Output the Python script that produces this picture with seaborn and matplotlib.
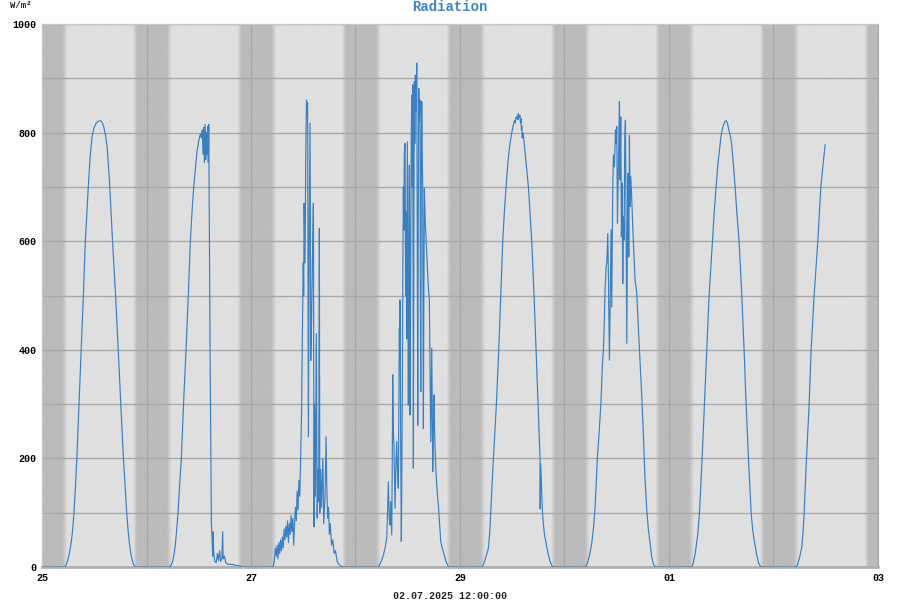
import numpy as np
import pandas as pd
import matplotlib
matplotlib.use('Agg')
import matplotlib.pyplot as plt
import seaborn as sns
from matplotlib.colors import LinearSegmentedColormap
from matplotlib.ticker import MultipleLocator, FixedLocator


# days shown (25.06 - 02.07.2025), x axis in hours from 25.06 00:00
day_names = ['25', '26', '27', '28', '29', '30', '01', '02']
xtick_hours = [0, 48, 96, 144, 192]
xtick_labels = ['25', '27', '29', '01', '03']

# (hour of day, W/m²), one list per day
day25 = [(0, 0), (5.2, 0), (5.6, 5), (6.0, 15), (6.4, 30), (6.7, 45), (7.0, 65), (7.35, 100),
         (7.7, 150), (8.0, 200), (8.5, 300), (9.0, 400), (9.5, 500), (9.95, 600), (10.35, 660),
         (10.7, 710), (11.1, 760), (11.5, 792), (11.9, 808), (12.4, 817), (12.9, 821), (13.4, 822),
         (13.8, 819), (14.2, 810), (14.6, 795), (15.0, 770), (15.5, 710), (16.2, 600), (16.9, 500),
         (17.5, 400), (18.1, 300), (18.7, 200), (19.1, 145), (19.45, 100), (19.8, 65), (20.1, 42),
         (20.5, 20), (20.9, 7), (21.4, 0)]
day26 = [(5.3, 0), (5.7, 4), (6.0, 10), (6.3, 22), (6.6, 40), (6.9, 65), (7.24, 100), (7.6, 150),
         (8.0, 200), (8.5, 300), (9.08, 400), (9.6, 500), (10.07, 600), (10.5, 660), (10.9, 705),
         (11.3, 740), (11.6, 765), (12.0, 785), (12.36, 798), (12.6, 790), (12.8, 805),
         (13.0, 760), (13.15, 810), (13.3, 745), (13.45, 815), (13.6, 750), (13.75, 800),
         (13.9, 760), (14.05, 812), (14.2, 745), (14.3, 815), (14.6, 400), (14.9, 80), (15.05, 55),
         (15.2, 20), (15.3, 65), (15.45, 25), (15.7, 10), (16.0, 8), (16.3, 25), (16.5, 12),
         (16.8, 30), (17.0, 10), (17.3, 15), (17.5, 65), (17.6, 15), (17.9, 20), (18.2, 8),
         (18.7, 5), (19.5, 5), (20.5, 3), (21.5, 2), (22.0, 0)]
day27 = [(5.1, 0), (5.4, 15), (5.6, 35), (5.8, 20), (6.0, 40), (6.2, 15), (6.4, 45), (6.6, 25),
         (6.8, 50), (7.0, 30), (7.2, 55), (7.4, 35), (7.6, 70), (7.8, 50), (8.0, 75), (8.2, 55),
         (8.4, 85), (8.6, 45), (8.8, 80), (9.0, 60), (9.2, 95), (9.4, 65), (9.6, 90), (9.8, 40),
         (10.0, 80), (10.2, 110), (10.4, 85), (10.6, 140), (10.8, 105), (11.0, 160), (11.2, 130),
         (11.4, 200), (11.6, 280), (11.8, 430), (12.0, 560), (12.1, 500), (12.2, 670), (12.4, 560),
         (12.6, 780), (12.75, 860), (12.85, 835), (13.0, 855), (13.18, 240), (13.35, 600),
         (13.56, 817), (13.72, 380), (13.9, 450), (14.1, 560), (14.33, 670), (14.48, 74),
         (14.6, 300), (14.8, 130), (15.0, 430), (15.2, 90), (15.4, 180), (15.55, 120), (15.7, 624),
         (15.8, 100), (16.0, 180), (16.2, 110), (16.5, 200), (16.7, 80), (17.0, 130), (17.24, 240),
         (17.4, 150), (17.6, 90), (17.8, 110), (18.0, 60), (18.2, 80), (18.5, 40), (18.8, 50),
         (19.1, 25), (19.4, 30), (19.8, 10), (20.2, 5), (20.6, 2), (21.2, 0)]
day28 = [(5.2, 0), (5.6, 5), (6.0, 12), (6.4, 22), (6.8, 35), (7.17, 53), (7.4, 110), (7.55, 157),
         (7.75, 90), (7.94, 77), (8.1, 120), (8.32, 59), (8.45, 200), (8.55, 354), (8.7, 250),
         (8.85, 219), (9.0, 140), (9.08, 108), (9.25, 180), (9.47, 231), (9.65, 170), (9.84, 145),
         (9.95, 300), (10.07, 440), (10.15, 380), (10.23, 492), (10.4, 200), (10.53, 47),
         (10.65, 180), (10.76, 323), (10.88, 560), (10.99, 700), (11.1, 620), (11.2, 760),
         (11.38, 780), (11.5, 500), (11.61, 654), (11.75, 420), (11.91, 783), (12.0, 600),
         (12.14, 298), (12.25, 550), (12.37, 740), (12.45, 450), (12.53, 280), (12.7, 620),
         (12.82, 800), (12.92, 869), (13.05, 700), (13.15, 888), (13.22, 500), (13.29, 182),
         (13.4, 600), (13.52, 894), (13.62, 780), (13.75, 906), (13.9, 840), (14.0, 880),
         (14.07, 928), (14.18, 600), (14.3, 261), (14.42, 650), (14.53, 881), (14.65, 820),
         (14.83, 860), (14.9, 500), (14.98, 323), (15.1, 700), (15.21, 857), (15.32, 760),
         (15.44, 703), (15.52, 400), (15.59, 255), (15.7, 500), (15.82, 697), (16.0, 640),
         (16.2, 605), (16.35, 580), (16.51, 550), (16.7, 520), (16.97, 489), (17.1, 380),
         (17.28, 231), (17.4, 330), (17.51, 403), (17.62, 300), (17.74, 176), (17.9, 260),
         (18.04, 317), (18.15, 260), (18.27, 219), (18.45, 180), (18.66, 151), (18.85, 130),
         (19.03, 114), (19.3, 80), (19.58, 47), (19.9, 35), (20.19, 28), (20.5, 18), (20.8, 10),
         (21.35, 0)]
day29 = [(5.0, 0), (5.4, 5), (5.8, 14), (6.2, 25), (6.5, 34), (6.8, 60), (7.06, 100), (7.35, 150),
         (7.67, 200), (8.36, 300), (8.9, 400), (9.36, 500), (9.82, 600), (10.2, 655), (10.58, 700),
         (11.0, 745), (11.4, 775), (11.88, 800), (12.2, 812), (12.5, 822), (12.7, 818), (12.85, 828),
         (13.03, 826), (13.2, 832), (13.3, 824), (13.41, 835), (13.6, 828), (13.75, 832),
         (13.9, 818), (14.0, 826), (14.1, 805), (14.2, 812), (14.3, 790), (14.4, 800), (14.56, 795),
         (14.8, 775), (15.2, 740), (15.71, 700), (16.1, 650), (16.48, 600), (17.01, 500),
         (17.47, 400), (17.93, 300), (18.3, 215), (18.39, 200), (18.42, 107), (18.5, 190),
         (18.65, 165), (18.93, 100), (19.2, 75), (19.4, 60), (19.92, 37), (20.3, 22), (20.6, 12),
         (21.0, 4), (21.3, 0)]
day30 = [(4.73, 0), (5.2, 6), (5.7, 20), (6.26, 44), (6.7, 75), (7.03, 111), (7.3, 155),
         (7.56, 203), (7.94, 246), (8.4, 307), (8.71, 375), (8.94, 400), (9.09, 437), (9.32, 510),
         (9.55, 553), (9.71, 559), (9.94, 614), (10.09, 534), (10.32, 381), (10.47, 473),
         (10.7, 621), (10.85, 479), (11.08, 694), (11.24, 759), (11.47, 737), (11.7, 805),
         (11.85, 780), (12.0, 811), (12.16, 633), (12.31, 713), (12.46, 780), (12.62, 857),
         (12.77, 713), (12.92, 829), (13.07, 608), (13.23, 707), (13.38, 522), (13.53, 645),
         (13.69, 602), (13.84, 786), (13.99, 823), (14.15, 633), (14.3, 412), (14.45, 614),
         (14.61, 725), (14.76, 571), (14.91, 795), (15.07, 664), (15.22, 719), (15.45, 676),
         (15.83, 596), (16.21, 528), (16.6, 504), (16.98, 437), (17.36, 375), (17.75, 314),
         (18.13, 240), (18.51, 160), (18.89, 105), (19.28, 68), (19.66, 44), (20.04, 18),
         (20.4, 6), (20.81, 0)]
day01 = [(5.2, 0), (5.6, 8), (5.9, 20), (6.23, 37), (6.6, 60), (7.0, 100), (7.3, 150), (7.6, 200),
         (8.14, 300), (8.68, 400), (9.21, 500), (9.98, 600), (10.4, 655), (10.82, 700), (11.2, 740),
         (11.59, 768), (11.9, 790), (12.2, 805), (12.5, 814), (12.8, 820), (13.12, 822),
         (13.4, 818), (13.66, 808), (13.9, 800), (14.2, 790), (14.42, 775), (14.8, 740),
         (15.19, 700), (15.6, 650), (16.1, 600), (16.72, 500), (17.25, 400), (17.71, 300),
         (18.25, 200), (18.55, 150), (18.86, 100), (19.2, 70), (19.5, 52), (19.78, 40), (20.2, 20),
         (20.6, 7), (21.08, 0)]
day02 = [(5.2, 0), (5.6, 6), (6.0, 18), (6.5, 37), (6.8, 65), (7.04, 100), (7.3, 150), (7.57, 200),
         (8.19, 300), (8.64, 400), (9.33, 500), (10.18, 600), (10.87, 700), (11.25, 731),
         (11.5, 750), (11.86, 778)]

all_days = [day25, day26, day27, day28, day29, day30, day01, day02]

# night shading (hour of day), gradient at dawn / dusk
dawn_start, dawn_end = 4.7, 5.8
dusk_start, dusk_end = 20.95, 21.8

rows = []
for i, day in enumerate(all_days):
    for h, v in day:
        rows.append({'hour': i * 24 + h, 'rad': v})
df = pd.DataFrame(rows)

sns.set_style('white')
plt.rcParams['font.family'] = ['Liberation Mono', 'DejaVu Sans Mono']
plt.rcParams['font.weight'] = 'bold'

fig = plt.figure(figsize=(9, 6), dpi=100)
ax = fig.add_axes([42 / 900, 33 / 600, 836 / 900, 543 / 600])

# background: light by day, darker by night
t = np.linspace(0, 192, 4000)
night = np.interp(t % 24, [0, dawn_start, dawn_end, dusk_start, dusk_end, 24],
                  [1, 1, 0, 0, 1, 1])
cmap = LinearSegmentedColormap.from_list('daynight', ['#e0e0e0', '#bbbbbb'])
ax.imshow(night[np.newaxis, :], extent=[0, 192, 0, 1000], aspect='auto',
          cmap=cmap, vmin=0, vmax=1, zorder=0, interpolation='bilinear')

sns.lineplot(data=df, x='hour', y='rad', ax=ax, color='#3a7fc0', linewidth=0.85,
             estimator=None, sort=False, zorder=3)

ax.set_xlim(0, 192)
ax.set_ylim(0, 1000)
ax.set_xticks(xtick_hours)
ax.set_xticklabels(xtick_labels)
ax.xaxis.set_minor_locator(FixedLocator([24, 72, 120, 168]))
ax.set_yticks(range(0, 1001, 200))
ax.yaxis.set_minor_locator(MultipleLocator(100))
ax.set_axisbelow(True)
ax.grid(which='both', color='#a8a8a8', linewidth=1.0)
ax.tick_params(which='both', length=0, labelsize=7.2, pad=4, colors='black')
ax.set_xlabel('')
ax.set_ylabel('')

for side in ['left', 'top']:
    ax.spines[side].set_color('#c8c8c8')
    ax.spines[side].set_linewidth(1.0)
ax.spines['right'].set_color('#a8a8a8')
ax.spines['bottom'].set_color('#b0b0b0')
ax.spines['bottom'].set_linewidth(2.0)

fig.text(0.5, 1 - 7 / 600, 'Radiation', ha='center', va='center', fontsize=10,
         color='#3d85c6', fontweight='bold')
fig.text(10 / 900, 1 - 5 / 600, 'W/m²', ha='left', va='center', fontsize=6.5,
         fontweight='bold')
fig.text(0.5, 1 - 596 / 600, '02.07.2025 12:00:00', ha='center', va='center',
         fontsize=7.2, fontweight='bold')

fig.savefig('out.png', dpi=100)
